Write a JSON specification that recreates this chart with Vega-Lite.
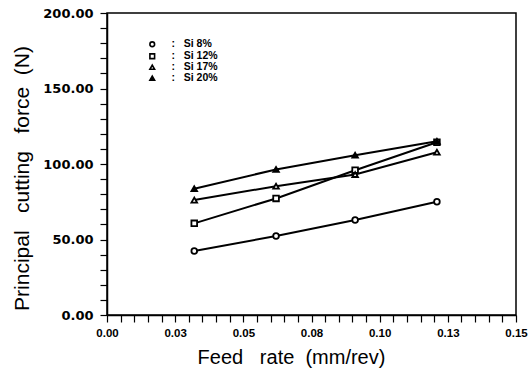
{
  "$schema": "https://vega.github.io/schema/vega-lite/v6.json",
  "width": 409,
  "height": 302,
  "autosize": {"type": "none"},
  "padding": {"left": 107, "top": 13, "right": 16, "bottom": 62},
  "background": "white",
  "config": {
    "view": {"stroke": "black", "strokeWidth": 1.5},
    "axis": {"domainColor": "black", "tickColor": "black", "labelColor": "black", "titleColor": "black", "grid": false, "domainWidth": 1.5, "tickWidth": 1.2}
  },
  "data": {
    "values": [
      {"feed": 0.032, "force": 42.4, "alloy": "Si 8%"},
      {"feed": 0.062, "force": 52.3, "alloy": "Si 8%"},
      {"feed": 0.091, "force": 62.9, "alloy": "Si 8%"},
      {"feed": 0.121, "force": 75.0, "alloy": "Si 8%"},
      {"feed": 0.032, "force": 60.7, "alloy": "Si 12%"},
      {"feed": 0.062, "force": 77.2, "alloy": "Si 12%"},
      {"feed": 0.091, "force": 95.9, "alloy": "Si 12%"},
      {"feed": 0.121, "force": 114.4, "alloy": "Si 12%"},
      {"feed": 0.032, "force": 76.1, "alloy": "Si 17%"},
      {"feed": 0.062, "force": 85.3, "alloy": "Si 17%"},
      {"feed": 0.091, "force": 93.0, "alloy": "Si 17%"},
      {"feed": 0.121, "force": 107.8, "alloy": "Si 17%"},
      {"feed": 0.032, "force": 83.6, "alloy": "Si 20%"},
      {"feed": 0.062, "force": 96.4, "alloy": "Si 20%"},
      {"feed": 0.091, "force": 105.8, "alloy": "Si 20%"},
      {"feed": 0.121, "force": 115.0, "alloy": "Si 20%"}
    ]
  },
  "encoding": {
    "x": {
      "field": "feed", "type": "quantitative",
      "scale": {"domain": [0, 0.15], "nice": false, "zero": false},
      "axis": {
        "title": "Feed\u00a0\u00a0\u00a0rate\u00a0\u00a0(mm/rev)",
        "titleFont": "Liberation Sans", "titleFontSize": 20, "titleFontWeight": "normal", "titlePadding": 9,
        "titleX": 184, "titleAlign": "center",
        "values": [0,0.005,0.01,0.015,0.02,0.025,0.03,0.035,0.04,0.045,0.05,0.055,0.06,0.065,0.07,0.075,0.08,0.085,0.09,0.095,0.1,0.105,0.11,0.115,0.12,0.125,0.13,0.135,0.14,0.145,0.15],
        "labelExpr": "abs(datum.value/0.025 - round(datum.value/0.025)) < 0.01 ? format(datum.value + 0.0001, '.2f') : ''",
        "labelFont": "Liberation Sans", "labelFontSize": 11.5, "labelFontWeight": "bold",
        "labelOverlap": false, "labelBound": false, "labelFlush": false,
        "labelPadding": 5,
        "tickSize": 7,
        "encode": {"ticks": {"update": {"y2": {"signal": "abs(datum.value/0.025 - round(datum.value/0.025)) < 0.01 ? 7 : 4"}}}}
      }
    },
    "y": {
      "field": "force", "type": "quantitative",
      "scale": {"domain": [0, 200], "nice": false},
      "axis": {
        "title": "Principal\u00a0\u00a0\u00a0cutting\u00a0\u00a0\u00a0force\u00a0\u00a0(N)",
        "titleFont": "Liberation Sans", "titleFontSize": 21, "titleFontWeight": "normal", "titlePadding": 10,
        "titleY": 165,
        "values": [0,10,20,30,40,50,60,70,80,90,100,110,120,130,140,150,160,170,180,190,200],
        "labelExpr": "datum.value % 50 == 0 ? format(datum.value, '.2f') : ''",
        "labelFont": "DejaVu Sans", "labelFontSize": 13, "labelFontWeight": "bold",
        "labelOverlap": false, "labelBound": false, "labelFlush": false,
        "labelPadding": 7,
        "tickSize": 7,
        "encode": {"ticks": {"update": {"x2": {"signal": "datum.value % 50 == 0 ? -7 : -4"}}}}
      }
    }
  },
  "layer": [
    {
      "mark": {"type": "line", "color": "black", "strokeWidth": 2},
      "encoding": {"detail": {"field": "alloy"}}
    },
    {
      "mark": {"type": "point", "stroke": "black", "strokeWidth": 1.8, "size": 32, "opacity": 1},
      "encoding": {
        "shape": {
          "field": "alloy", "type": "nominal",
          "scale": {"domain": ["Si 8%", "Si 12%", "Si 17%", "Si 20%"], "range": ["circle", "square", "triangle-up", "triangle-up"]},
          "legend": {
            "title": null, "orient": "none", "legendX": 40, "legendY": 26,
            "padding": 0, "rowPadding": 0, "symbolSize": 22, "symbolStrokeWidth": 1.6,
            "labelFont": "Liberation Sans", "labelFontSize": 10.5, "labelFontWeight": "bold", "labelOffset": 14,
            "labelExpr": "':\u00a0\u00a0\u00a0' + datum.label", "labelColor": "black",
            "encode": {"symbols": {"update": {"stroke": {"value": "black"}, "strokeWidth": {"value": 1.6}, "opacity": {"value": 1}}}}
          }
        },
        "fill": {
          "field": "alloy", "type": "nominal",
          "scale": {"domain": ["Si 8%", "Si 12%", "Si 17%", "Si 20%"], "range": ["white", "white", "white", "black"]},
          "legend": {
            "title": null, "orient": "none", "legendX": 40, "legendY": 26,
            "padding": 0, "rowPadding": 0, "symbolSize": 22, "symbolStrokeWidth": 1.6,
            "labelFont": "Liberation Sans", "labelFontSize": 10.5, "labelFontWeight": "bold", "labelOffset": 14,
            "labelExpr": "':\u00a0\u00a0\u00a0' + datum.label", "labelColor": "black",
            "encode": {"symbols": {"update": {"stroke": {"value": "black"}, "strokeWidth": {"value": 1.6}, "opacity": {"value": 1}}}}
          }
        }
      }
    }
  ]
}
